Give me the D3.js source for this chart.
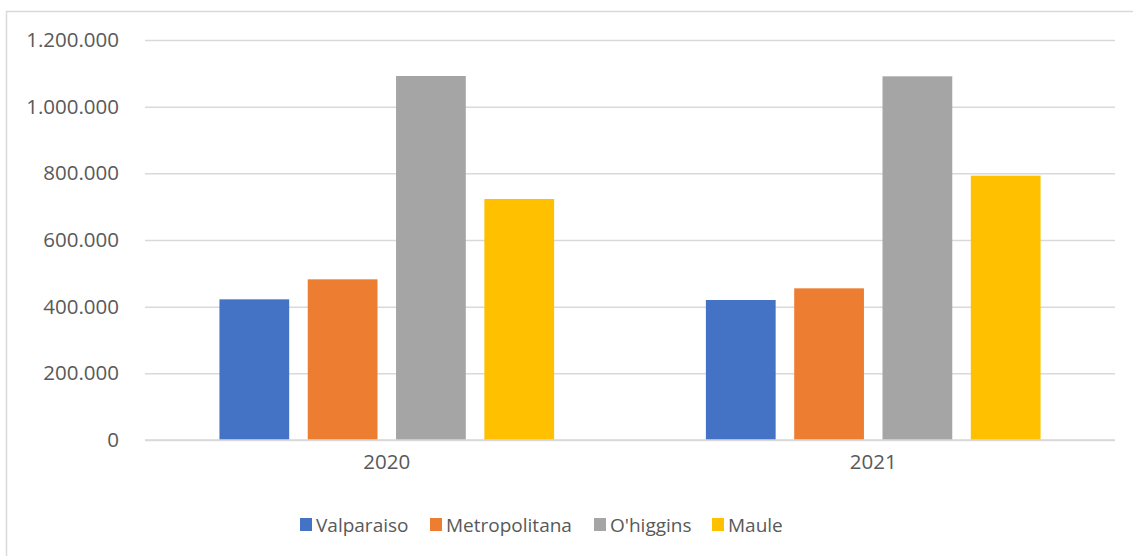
<!DOCTYPE html>
<html>
<head>
<meta charset="utf-8">
<script src="https://cdn.jsdelivr.net/npm/d3@7"></script>
<style>
  body { margin: 0; background: #fff; }
  svg text { font-family: "Open Sans", "Liberation Sans", sans-serif; fill: #595959; }
</style>
</head>
<body>
<div id="chart"></div>
<script>

var years = ["2020", "2021"];
var regions = ["Valparaiso", "Metropolitana", "O'higgins", "Maule"];
var colors = ["#4472C4", "#ED7D31", "#A5A5A5", "#FFC000"];
var valparaiso = [422000, 420000];
var metropolitana = [482000, 455000];
var ohiggins = [1092000, 1091000];
var maule = [723000, 793000];
var yTicks = [0, 200000, 400000, 600000, 800000, 1000000, 1200000];

var series = [valparaiso, metropolitana, ohiggins, maule];

var width = 1133, height = 556;
var margin = { left: 145, right: 18, top: 40, bottom: 116 };

var svg = d3.select("#chart")
    .append("svg")
    .attr("width", width)
    .attr("height", height);

// chart border
svg.append("rect")
    .attr("x", 6.5)
    .attr("y", 11.5)
    .attr("width", width + 20)
    .attr("height", height + 20)
    .attr("fill", "none")
    .attr("stroke", "#d9d9d9")
    .attr("stroke-width", 1.5);

var x0 = d3.scaleBand()
    .domain(years)
    .range([margin.left, width - margin.right])
    .paddingInner(0.312)
    .paddingOuter(0.153);

var x1 = d3.scaleBand()
    .domain(regions)
    .range([0, x0.bandwidth()])
    .paddingInner(0.21);

var y = d3.scaleLinear()
    .domain([0, 1200000])
    .range([height - margin.bottom, margin.top]);

var fmt = function(d) { return d3.format(",")(d).replace(/,/g, "."); };

// gridlines + labels
var yAxis = d3.axisLeft(y)
    .tickValues(yTicks)
    .tickSize(-(width - margin.left - margin.right))
    .tickPadding(26)
    .tickFormat(fmt);

var gy = svg.append("g")
    .attr("transform", "translate(" + margin.left + ",0)")
    .call(yAxis);
gy.select(".domain").remove();
gy.selectAll(".tick line").attr("stroke", "#d9d9d9").attr("stroke-width", 1.5);
gy.selectAll(".tick text").style("font-size", "20.5px").attr("fill", "#595959");

// bars
var groups = svg.selectAll(".year")
    .data(years).enter()
    .append("g")
    .attr("class", "year")
    .attr("transform", function(d){ return "translate(" + x0(d) + ",0)" });

groups.selectAll("rect")
    .data(function(d, i){
        return regions.map(function(r, j){ return { region: r, value: series[j][i], color: colors[j] }; });
    }).enter()
    .append("rect")
    .attr("x", function(d){ return x1(d.region) })
    .attr("width", x1.bandwidth())
    .attr("y", function(d){ return y(d.value) })
    .attr("height", function(d){ return y(0) - y(d.value) })
    .attr("fill", function(d){ return d.color });

// x axis
var xAxis = d3.axisBottom(x0).tickSize(0).tickPadding(14);
var gx = svg.append("g")
    .attr("transform", "translate(0," + y(0) + ")")
    .call(xAxis);
gx.select(".domain").attr("stroke", "#d9d9d9").attr("stroke-width", 1.5)
    .attr("d", "M" + margin.left + ",0H" + (width - margin.right));
gx.selectAll(".tick text").style("font-size", "20.5px").attr("fill", "#595959");

// legend
var legendX = [300, 430, 594, 712];
var legend = svg.selectAll(".legend")
    .data(regions).enter()
    .append("g")
    .attr("class", "legend")
    .attr("transform", function(d, i){ return "translate(" + legendX[i] + ",518)" });

legend.append("rect")
    .attr("width", 12)
    .attr("height", 13)
    .attr("fill", function(d, i){ return colors[i] });

legend.append("text")
    .attr("x", 16)
    .attr("y", 13.5)
    .style("font-size", "19px")
    .text(function(d){ return d });

</script>
</body>
</html>
